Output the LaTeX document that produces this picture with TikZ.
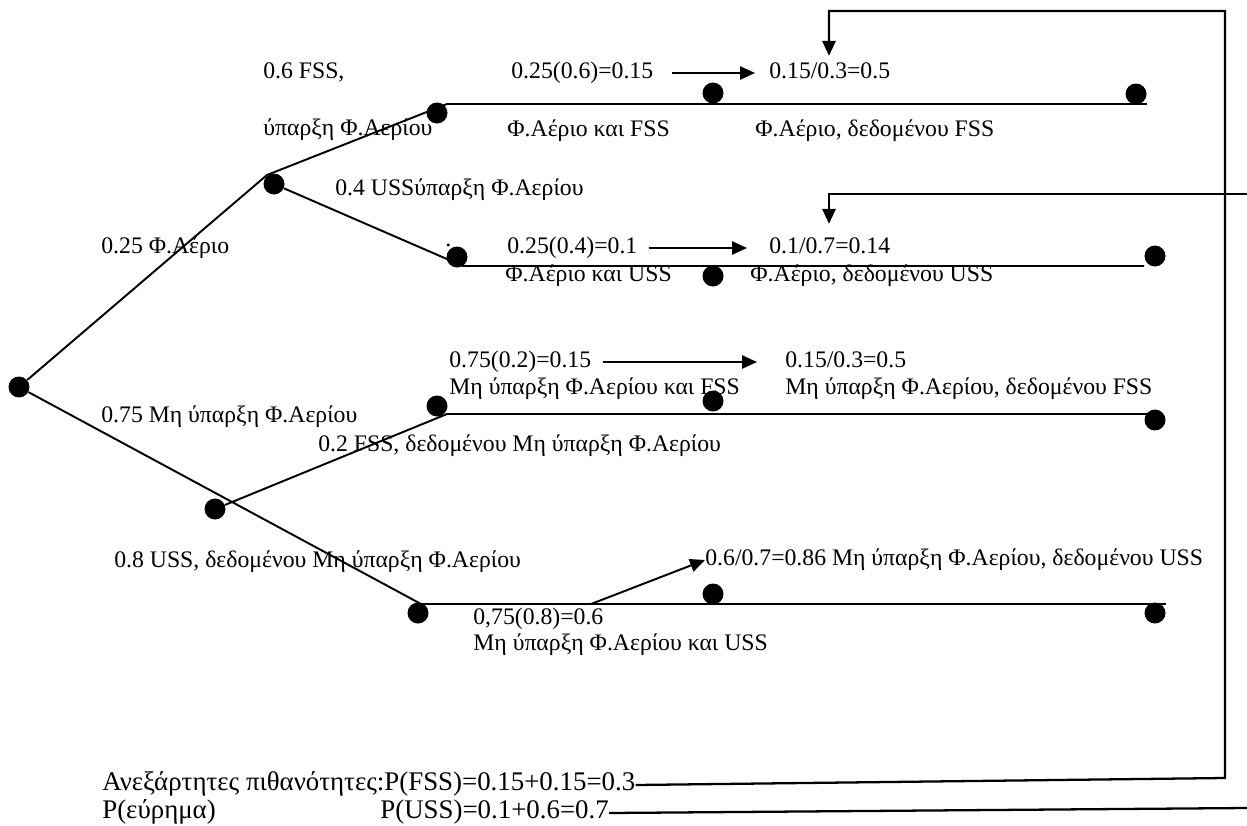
\documentclass[tikz,border=0pt]{standalone}
\usepackage{fontspec}
\setmainfont{Liberation Serif}
\usetikzlibrary{arrows.meta}
\tikzset{
  bullet/.style={circle, fill=black, inner sep=0pt, minimum size=0.42cm},
  lbl/.style={anchor=west, inner sep=0pt, text height=0.8em, text depth=0.2em, font=\fontsize{13.5}{16}\selectfont},
  total/.style={lbl, font=\fontsize{15.3}{18}\selectfont},
  branch/.style={line width=1.1pt},
  arrow/.style={-{Triangle[length=8.5pt,width=7.5pt]}, line width=1.1pt},
  link/.style={line width=1.3pt}
}

\begin{document}
\begin{tikzpicture}[x=0.02cm, y=-0.02cm]
  \useasboundingbox (0,0) rectangle (1247,825);

  % chance nodes
  \node[bullet] (root) at (19,387) {};
  \node[bullet] (gas) at (274,184) {};
  \node[bullet] (nogas) at (215,509) {};
  \node[bullet] (gfss) at (437,113) {};
  \node[bullet] (guss) at (457,257) {};
  \node[bullet] (nfss) at (437,406) {};
  \node[bullet] (nuss) at (418,613) {};
  \node[bullet] (gfssm) at (713,93) {};
  \node[bullet] (gfsse) at (1136,94) {};
  \node[bullet] (gussm) at (713,276) {};
  \node[bullet] (gusse) at (1155,256) {};
  \node[bullet] (nfssm) at (713,401) {};
  \node[bullet] (nfsse) at (1155,420) {};
  \node[bullet] (nussm) at (713,594) {};
  \node[bullet] (nusse) at (1155,613) {};

  \coordinate (kA) at (267,175);
  \coordinate (kB) at (447,104);
  \coordinate (kC) at (463,266);
  \coordinate (kF) at (447,414);
  \coordinate (kE) at (421,604);

  \draw[branch] (root) -- (kA) -- (kB) -- (gfsse.east |- kB);
  \draw[branch] (gas) -- (kC) -- (gusse.west |- kC);
  \draw[branch] (root) -- (kE) -- (nusse.east |- kE);
  \draw[branch] (nogas) -- (kF) -- (nfsse.center |- kF);

  % branch labels
  \node[lbl] (pf) at (263,73) {0.6 FSS,};
  \node[lbl] (pfg) at (263,130) {ύπαρξη Φ.Αερίου};
  \node[lbl] (pu) at (335,190) {0.4 USSύπαρξη Φ.Αερίου};
  \node[lbl] (pg) at (101,248) {0.25 Φ.Αέριο};
  \node[lbl] (dotmark) at (445,241) {.};
  \node[lbl] (png) at (101,417) {0.75 Μη ύπαρξη Φ.Αερίου};
  \node[lbl] (pnf) at (318,446) {0.2 FSS, δεδομένου Μη ύπαρξη Φ.Αερίου};
  \node[lbl] (pnu) at (114,562) {0.8 USS, δεδομένου Μη ύπαρξη Φ.Αερίου};

  % joint and conditional
  \node[lbl] (j1) at (511,73) {0.25(0.6)=0.15};
  \node[lbl] (j1t) at (507,131) {Φ.Αέριο και FSS};
  \node[lbl] (c1) at (769,73) {0.15/0.3=0.5};
  \node[lbl] (c1t) at (755,131) {Φ.Αέριο, δεδομένου FSS};
  \node[lbl] (j2) at (507,248) {0.25(0.4)=0.1};
  \node[lbl] (j2t) at (505,276) {Φ.Αέριο και USS};
  \node[lbl] (c2) at (769,248) {0.1/0.7=0.14};
  \node[lbl] (c2t) at (750,276) {Φ.Αέριο, δεδομένου USS};
  \node[lbl] (j3) at (449,362) {0.75(0.2)=0.15};
  \node[lbl] (j3t) at (449,389) {Μη ύπαρξη Φ.Αερίου και FSS};
  \node[lbl] (c3) at (785,362) {0.15/0.3=0.5};
  \node[lbl] (c3t) at (785,389) {Μη ύπαρξη Φ.Αερίου, δεδομένου FSS};
  \node[lbl] (j4) at (473,619) {0,75(0.8)=0.6};
  \node[lbl] (j4t) at (473,645) {Μη ύπαρξη Φ.Αερίου και USS};
  \node[lbl] (c4) at (705,560) {0.6/0.7=0.86 Μη ύπαρξη Φ.Αερίου, δεδομένου USS};

  \draw[arrow, shorten <=0.36cm, shorten >=0.28cm] (j1) -- (c1);
  \draw[arrow, shorten <=0.22cm, shorten >=0.44cm] (j2) -- (c2);
  \draw[arrow, shorten <=0.22cm, shorten >=0.56cm] (j3) -- (c3);
  \coordinate (a4) at (591,604);
  \draw[arrow] (a4) -- (c4.west);

  % totals
  \node[total] (pfss) at (102,785) {Ανεξάρτητες πιθανότητες:P(FSS)=0.15+0.15=0.3};
  \node[total] (find) at (102,813) {P(εύρημα)};
  \node[total] (puss) at (380,813) {P(USS)=0.1+0.6=0.7};

  \coordinate (r1) at (1225,778);
  \coordinate (top1) at (829,11);
  \draw[link, -{Triangle[length=8.5pt,width=7.5pt]}, shorten >=0.16cm]
    (pfss.east) -- (r1) |- (top1) -- (top1 |- c1.north);
  \coordinate (r2) at (1247,808);
  \draw[link] (puss.east) -- (r2);
  \coordinate (l2) at (1247,194);
  \coordinate (top2) at (829,194);
  \draw[link, -{Triangle[length=8.5pt,width=7.5pt]}, shorten >=0.3cm]
    (l2) -- (top2) -- (top2 |- c2.north);
\end{tikzpicture}
\end{document}
